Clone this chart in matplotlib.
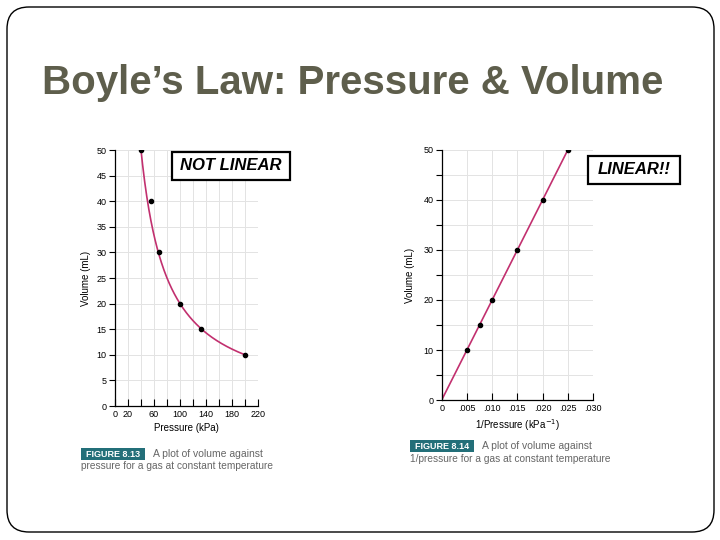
import matplotlib
matplotlib.use("Agg")
import matplotlib.pyplot as plt
import numpy as np
from matplotlib.patches import FancyBboxPatch, Rectangle

plt.rcParams['font.family'] = ['Liberation Sans', 'DejaVu Sans']

# Data
pressure = [40, 55, 67, 100, 132, 200]        # kPa
volume = [50, 40, 30, 20, 15, 10]             # mL
boyle_k = 2000                                # P*V for the fitted curve
inv_pressure = [0.005, 0.0075, 0.010, 0.015, 0.020, 0.025]   # 1/kPa
volume2 = [10, 15, 20, 30, 40, 50]
fit_x = [0, 0.025]
fit_y = [0, 50]

left_xticks = np.arange(0, 221, 20)
left_xlabels = ['0', '20', '', '60', '', '100', '', '140', '', '180', '', '220']
right_xticks = [0, 0.005, 0.010, 0.015, 0.020, 0.025, 0.030]
right_xlabels = ['0', '.005', '.010', '.015', '.020', '.025', '.030']

curve_col = '#c2306f'
grid_col = '#e3e3e3'
teal = '#236f79'
cap_col = '#666666'

W, H = 720, 540
fig = plt.figure(figsize=(7.2, 5.4), dpi=100)


def pixel_axes(z):
    a = fig.add_axes([0, 0, 1, 1], zorder=z)
    a.set_xlim(0, W)
    a.set_ylim(H, 0)
    a.axis('off')
    a.patch.set_alpha(0)
    return a


# background layer: slide frame and title
bg = pixel_axes(0)
bg.add_patch(FancyBboxPatch((7, 7), 707, 525, boxstyle="round,pad=0,rounding_size=22",
                            fc='white', ec='black', lw=1.0))
bg.text(42, 83, "Boyle\u2019s Law: Pressure & Volume", fontsize=29, fontweight='bold',
        color='#5e5e4c', va='center', ha='left')


def style_axes(ax):
    ax.patch.set_alpha(0)
    for s in ['top', 'right']:
        ax.spines[s].set_visible(False)
    for s in ['left', 'bottom']:
        ax.spines[s].set_linewidth(0.9)
    ax.grid(True, color=grid_col, lw=0.7)
    ax.set_axisbelow(True)
    ax.tick_params(axis='x', direction='in', length=5, width=0.8, labelsize=6.5, pad=3, colors='black')
    ax.tick_params(axis='y', direction='out', length=4, width=0.8, labelsize=6.5, pad=2)
    ax.tick_params(axis='y', which='minor', direction='out', length=4, width=0.8)


# left figure: V vs P
ax1 = fig.add_axes([115 / W, 1 - 406 / H, 143 / W, 256 / H], zorder=1)
pc = np.linspace(40, 200, 200)
ax1.plot(pc, boyle_k / pc, color=curve_col, lw=1.2)
ax1.plot(pressure, volume, 'o', color='black', ms=3)
ax1.set_xlim(0, 220)
ax1.set_ylim(0, 50)
ax1.set_xticks(left_xticks)
ax1.set_xticklabels(left_xlabels)
ax1.set_yticks(np.arange(0, 51, 5))
style_axes(ax1)
ax1.set_xlabel("Pressure (kPa)", fontsize=7, labelpad=3)
ax1.set_ylabel("Volume (mL)", fontsize=7, labelpad=4)

# right figure: V vs 1/P
ax2 = fig.add_axes([441.7 / W, 1 - 400 / H, 151.3 / W, 250 / H], zorder=1)
ax2.plot(fit_x, fit_y, color=curve_col, lw=1.2)
ax2.plot(inv_pressure, volume2, 'o', color='black', ms=3)
ax2.set_xlim(0, 0.030)
ax2.set_ylim(0, 50)
ax2.set_xticks(right_xticks)
ax2.set_xticklabels(right_xlabels)
ax2.set_yticks(np.arange(0, 51, 10))
ax2.set_yticks(np.arange(5, 50, 10), minor=True)
ax2.grid(True, which='minor', axis='y', color=grid_col, lw=0.7)
style_axes(ax2)
ax2.set_xlabel("1/Pressure (kPa$^{-1}$)", fontsize=7, labelpad=3)
ax2.set_ylabel("Volume (mL)", fontsize=7, labelpad=6)

# overlay layer: annotation boxes and captions
top = pixel_axes(2)
top.add_patch(Rectangle((172, 152), 118, 28, fc='white', ec='black', lw=1.6))
top.text(231, 166, "NOT LINEAR", fontsize=12, fontweight='bold', fontstyle='italic',
         ha='center', va='center')
top.add_patch(Rectangle((588, 156), 92, 28, fc='white', ec='black', lw=1.6))
top.text(634, 170, "LINEAR!!", fontsize=12, fontweight='bold', fontstyle='italic',
         ha='center', va='center')

top.add_patch(Rectangle((81, 448), 64, 12, fc=teal, ec='none'))
top.text(113, 454.5, "FIGURE 8.13", fontsize=6.5, fontweight='bold', color='white',
         ha='center', va='center')
top.text(153, 454, "A plot of volume against", fontsize=7.5, color=cap_col, va='center')
top.text(81, 466, "pressure for a gas at constant temperature", fontsize=7.3, color=cap_col, va='center')

top.add_patch(Rectangle((410, 440), 64, 12, fc=teal, ec='none'))
top.text(442, 446.5, "FIGURE 8.14", fontsize=6.5, fontweight='bold', color='white',
         ha='center', va='center')
top.text(482, 446, "A plot of volume against", fontsize=7.5, color=cap_col, va='center')
top.text(410, 459, "1/pressure for a gas at constant temperature", fontsize=7.3, color=cap_col, va='center')

fig.savefig("out.png", dpi=100)
